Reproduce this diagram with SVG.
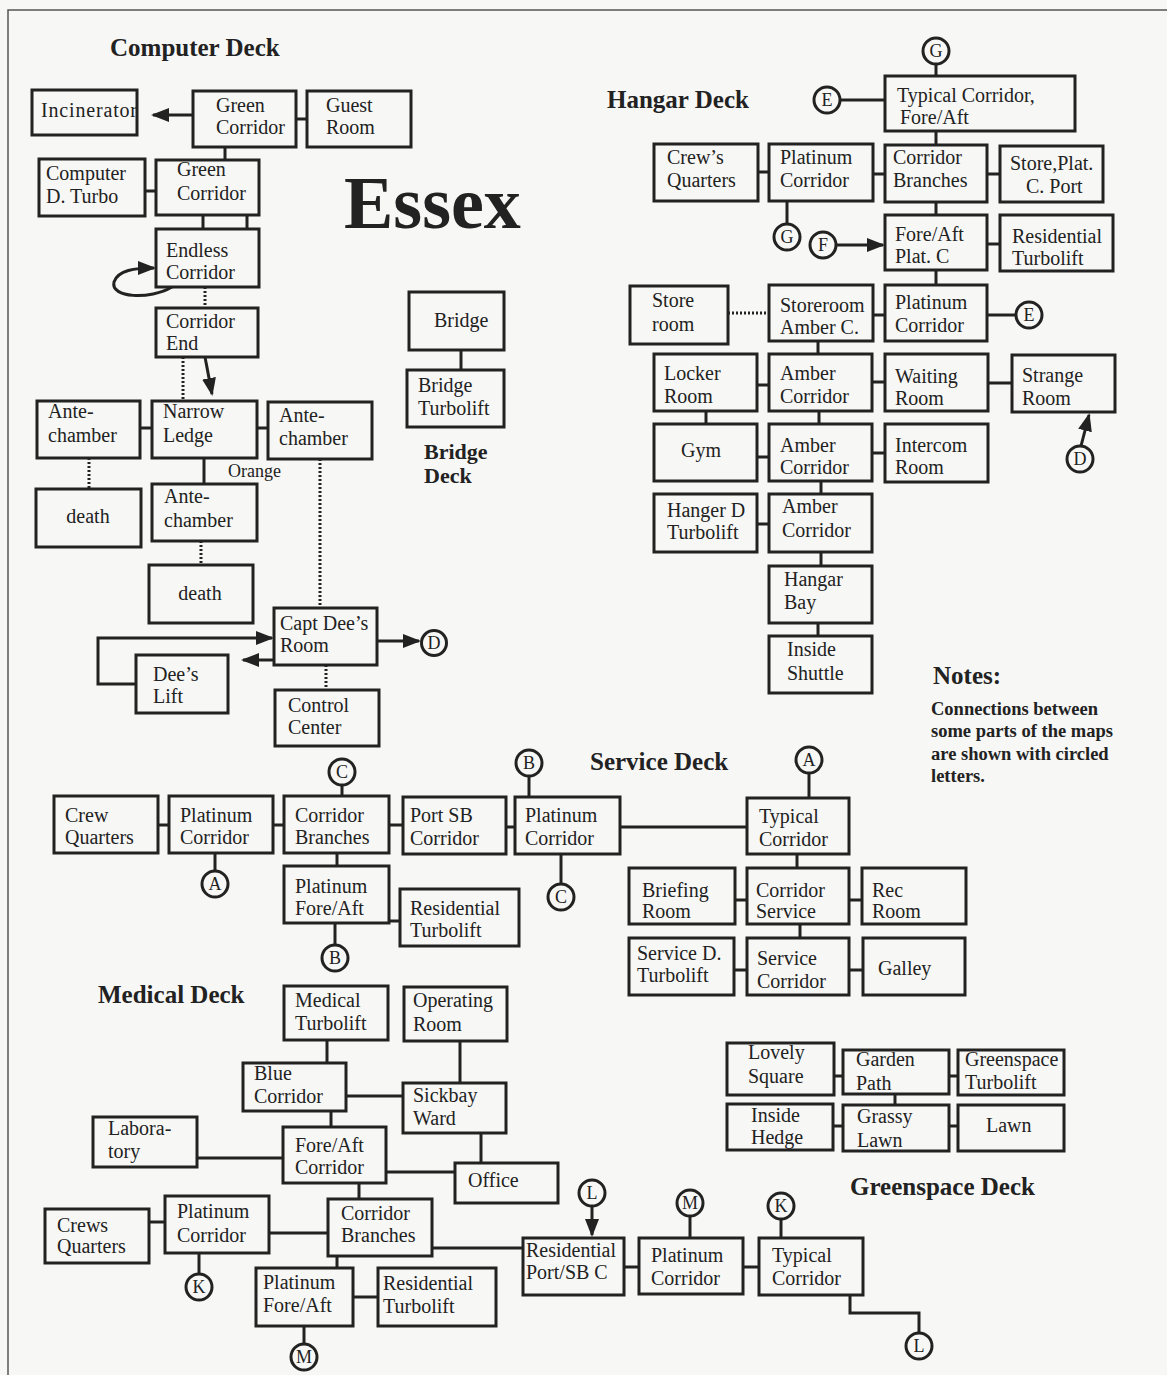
<svg xmlns="http://www.w3.org/2000/svg" width="1167" height="1375" viewBox="0 0 1167 1375">
<style>
.bg{fill:#f7f7f5}
.frame{stroke:#555;stroke-width:1.5;fill:none}
.box{fill:none;stroke:#222;stroke-width:3}
text{font-family:"Liberation Serif","Times New Roman",serif;fill:#222}
.t{font-size:20px}
.h{font-size:25px;font-weight:bold}
.h2{font-size:22px;font-weight:bold}
.title{font-size:74px;font-weight:bold}
.note{font-size:18.5px;font-weight:bold}
.ln{stroke:#222;stroke-width:3;fill:none}
.dot{stroke:#222;stroke-width:3;stroke-dasharray:2 2;fill:none}
.arr{marker-end:url(#ah)}
.circ{fill:none;stroke:#222;stroke-width:3}
.cl{font-size:18px;text-anchor:middle}
</style>
<defs>
<marker id="ah" viewBox="0 0 18 14" refX="16" refY="7" markerWidth="18" markerHeight="14" markerUnits="userSpaceOnUse" orient="auto">
<path d="M0,0 L18,7 L0,14 z" fill="#222"/>
</marker>
</defs>
<rect class="bg" x="0" y="0" width="1167" height="1375"/>
<path class="frame" d="M8 1375 V10 H1167"/>

<!-- Titles -->
<g id="titles">
<text class="title" x="344" y="228">Essex</text>
<text class="h" x="110" y="56">Computer Deck</text>
<text class="h" x="607" y="108">Hangar Deck</text>
<text class="h2" x="424" y="459">Bridge</text>
<text class="h2" x="424" y="483">Deck</text>
<text class="h" x="590" y="770">Service Deck</text>
<text class="h" x="98" y="1003">Medical Deck</text>
<text class="h" x="850" y="1195">Greenspace Deck</text>
<text class="h" x="933" y="684">Notes:</text>
<text class="note" x="931" y="715">Connections between</text>
<text class="note" x="931" y="737">some parts of the maps</text>
<text class="note" x="931" y="760">are shown with circled</text>
<text class="note" x="931" y="782">letters.</text>
<text class="t" x="228" y="477" style="font-size:18px">Orange</text>
</g>

<!-- Connectors -->
<g id="connectors">
<!-- Computer deck -->
<path class="ln arr" d="M193 115 H153"/>
<path class="ln" d="M296 119 H307"/>
<path class="ln" d="M225 147 V160"/>
<path class="ln" d="M145 191 H156"/>
<path class="ln" d="M203 215 V229 M247 215 V229"/>
<path class="ln arr" d="M172 287 C150 300 110 298 114 282 C118 270 135 268 154 268"/>
<path class="dot" d="M205 287 V308"/>
<path class="dot" d="M183 357 V401"/>
<path class="ln arr" d="M205 357 L212 394"/>
<path class="ln" d="M140 428 H152 M257 428 H268"/>
<path class="ln" d="M204 458 V484"/>
<path class="dot" d="M89 458 V489"/>
<path class="dot" d="M201 541 V565"/>
<path class="dot" d="M320 459 V608"/>
<path class="ln arr" d="M377 641 H419"/>
<path class="ln arr" d="M137 684 H98 V638 H272"/>
<path class="ln arr" d="M274 660 H243"/>
<path class="dot" d="M326 665 V690"/>
<!-- Bridge -->
<path class="ln" d="M461 350 V370"/>
<!-- Hangar deck -->
<path class="ln" d="M936 64 V76"/>
<path class="ln" d="M840 100 H885"/>
<path class="ln" d="M936 131 V145"/>
<path class="ln" d="M758 172 H769 M873 174 H885 M987 174 H1000"/>
<path class="ln" d="M787 201 V224"/>
<path class="ln arr" d="M836 245 H883"/>
<path class="ln" d="M936 202 V215"/>
<path class="ln" d="M987 244 H1000"/>
<path class="ln" d="M936 270 V285"/>
<path class="dot" d="M728 313 H769"/>
<path class="ln" d="M873 315 H885"/>
<path class="ln" d="M987 315 H1016"/>
<path class="ln" d="M818 341 V354"/>
<path class="ln" d="M757 385 H769 M872 382 H885 M988 383 H1012"/>
<path class="ln arr" d="M1081 446 L1089 415"/>
<path class="ln" d="M706 411 V424 M819 411 V424"/>
<path class="ln" d="M757 457 H769 M872 453 H885"/>
<path class="ln" d="M821 481 V494"/>
<path class="ln" d="M757 524 H769"/>
<path class="ln" d="M821 552 V566"/>
<path class="ln" d="M818 623 V636"/>
<!-- Service deck -->
<path class="ln" d="M342 785 V797"/>
<path class="ln" d="M529 776 V797"/>
<path class="ln" d="M158 825 H169 M273 825 H284 M389 825 H403 M506 827 H515"/>
<path class="ln" d="M215 853 V871"/>
<path class="ln" d="M337 853 V866"/>
<path class="ln" d="M389 921 H400"/>
<path class="ln" d="M335 923 V945"/>
<path class="ln" d="M561 854 V884"/>
<path class="ln" d="M809 773 V798"/>
<path class="ln" d="M620 827 H747"/>
<path class="ln" d="M797 854 V868"/>
<path class="ln" d="M735 900 H747 M849 900 H862"/>
<path class="ln" d="M800 924 V938"/>
<path class="ln" d="M734 970 H747 M849 970 H863"/>
<!-- Medical deck -->
<path class="ln" d="M327 1040 V1063"/>
<path class="ln" d="M460 1041 V1083"/>
<path class="ln" d="M346 1096 H403"/>
<path class="ln" d="M331 1111 V1127"/>
<path class="ln" d="M197 1158 H283"/>
<path class="ln" d="M481 1133 V1163"/>
<path class="ln" d="M386 1172 H455"/>
<path class="ln" d="M359 1183 V1199"/>
<path class="ln" d="M149 1222 H165"/>
<path class="ln" d="M269 1233 H328"/>
<path class="ln" d="M199 1253 V1274"/>
<path class="ln" d="M432 1248 H523"/>
<path class="ln" d="M337 1256 V1268"/>
<path class="ln" d="M353 1297 H378"/>
<path class="ln" d="M304 1326 V1344"/>
<!-- Greenspace & residential -->
<path class="ln" d="M834 1076 H843 M949 1076 H958"/>
<path class="ln" d="M895 1094 V1105"/>
<path class="ln" d="M833 1126 H843 M949 1126 H958"/>
<path class="ln arr" d="M592 1206 V1235"/>
<path class="ln" d="M690 1216 V1238"/>
<path class="ln" d="M624 1267 H639 M743 1267 H759"/>
<path class="ln" d="M781 1219 V1238"/>
<path class="ln" d="M850 1295 V1313 H919 V1333"/>
</g>

<!-- Circled letters -->
<g id="circle-D1"><circle class="circ" cx="434" cy="643" r="12.5"/><text class="cl" x="434" y="649">D</text></g>
<g id="circle-G1"><circle class="circ" cx="936" cy="51" r="13"/><text class="cl" x="936" y="57">G</text></g>
<g id="circle-E1"><circle class="circ" cx="827" cy="100" r="13"/><text class="cl" x="827" y="106">E</text></g>
<g id="circle-G2"><circle class="circ" cx="787" cy="237" r="13"/><text class="cl" x="787" y="243">G</text></g>
<g id="circle-F"><circle class="circ" cx="823" cy="245" r="13"/><text class="cl" x="823" y="251">F</text></g>
<g id="circle-E2"><circle class="circ" cx="1029" cy="315" r="13"/><text class="cl" x="1029" y="321">E</text></g>
<g id="circle-D2"><circle class="circ" cx="1080" cy="459" r="13"/><text class="cl" x="1080" y="465">D</text></g>
<g id="circle-C1"><circle class="circ" cx="342" cy="772" r="13"/><text class="cl" x="342" y="778">C</text></g>
<g id="circle-B1"><circle class="circ" cx="529" cy="763" r="13"/><text class="cl" x="529" y="769">B</text></g>
<g id="circle-A1"><circle class="circ" cx="215" cy="884" r="13"/><text class="cl" x="215" y="890">A</text></g>
<g id="circle-B2"><circle class="circ" cx="335" cy="958" r="13"/><text class="cl" x="335" y="964">B</text></g>
<g id="circle-C2"><circle class="circ" cx="561" cy="897" r="13"/><text class="cl" x="561" y="903">C</text></g>
<g id="circle-A2"><circle class="circ" cx="809" cy="760" r="13"/><text class="cl" x="809" y="766">A</text></g>
<g id="circle-K1"><circle class="circ" cx="199" cy="1287" r="13"/><text class="cl" x="199" y="1293">K</text></g>
<g id="circle-M1"><circle class="circ" cx="304" cy="1357" r="13"/><text class="cl" x="304" y="1363">M</text></g>
<g id="circle-L1"><circle class="circ" cx="592" cy="1193" r="13"/><text class="cl" x="592" y="1199">L</text></g>
<g id="circle-M2"><circle class="circ" cx="690" cy="1203" r="13"/><text class="cl" x="690" y="1209">M</text></g>
<g id="circle-K2"><circle class="circ" cx="781" cy="1206" r="13"/><text class="cl" x="781" y="1212">K</text></g>
<g id="circle-L2"><circle class="circ" cx="919" cy="1346" r="13"/><text class="cl" x="919" y="1352">L</text></g>

<!-- Computer Deck nodes -->
<g id="incinerator"><rect class="box" x="32" y="90" width="105" height="45"/><text class="t" x="41" y="117" textLength="96">Incinerator</text></g>
<g id="green-corridor-1"><rect class="box" x="193" y="91" width="103" height="56"/><text class="t" x="216" y="112">Green</text><text class="t" x="216" y="134">Corridor</text></g>
<g id="guest-room"><rect class="box" x="307" y="91" width="104" height="56"/><text class="t" x="326" y="112">Guest</text><text class="t" x="326" y="134">Room</text></g>
<g id="computer-turbo"><rect class="box" x="39" y="159" width="106" height="57"/><text class="t" x="46" y="180">Computer</text><text class="t" x="46" y="203">D. Turbo</text></g>
<g id="green-corridor-2"><rect class="box" x="156" y="160" width="103" height="55"/><text class="t" x="177" y="176">Green</text><text class="t" x="177" y="200">Corridor</text></g>
<g id="endless-corridor"><rect class="box" x="156" y="229" width="103" height="58"/><text class="t" x="166" y="257">Endless</text><text class="t" x="166" y="279">Corridor</text></g>
<g id="corridor-end"><rect class="box" x="156" y="308" width="102" height="49"/><text class="t" x="166" y="328">Corridor</text><text class="t" x="166" y="350">End</text></g>
<g id="antechamber-l"><rect class="box" x="37" y="401" width="103" height="57"/><text class="t" x="48" y="418">Ante-</text><text class="t" x="48" y="442">chamber</text></g>
<g id="narrow-ledge"><rect class="box" x="152" y="401" width="105" height="57"/><text class="t" x="163" y="418">Narrow</text><text class="t" x="163" y="442">Ledge</text></g>
<g id="antechamber-r"><rect class="box" x="268" y="402" width="104" height="57"/><text class="t" x="279" y="422">Ante-</text><text class="t" x="279" y="445">chamber</text></g>
<g id="antechamber-m"><rect class="box" x="152" y="484" width="105" height="57"/><text class="t" x="164" y="503">Ante-</text><text class="t" x="164" y="527">chamber</text></g>
<g id="death-1"><rect class="box" x="36" y="489" width="105" height="58"/><text class="t" x="88" y="523" text-anchor="middle">death</text></g>
<g id="death-2"><rect class="box" x="149" y="565" width="104" height="58"/><text class="t" x="200" y="600" text-anchor="middle">death</text></g>
<g id="capt-dees-room"><rect class="box" x="274" y="608" width="103" height="57"/><text class="t" x="280" y="630">Capt Dee’s</text><text class="t" x="280" y="652">Room</text></g>
<g id="dees-lift"><rect class="box" x="136" y="655" width="92" height="58"/><text class="t" x="153" y="681">Dee’s</text><text class="t" x="153" y="703">Lift</text></g>
<g id="control-center"><rect class="box" x="275" y="690" width="104" height="56"/><text class="t" x="288" y="712">Control</text><text class="t" x="288" y="734">Center</text></g>

<!-- Bridge Deck -->
<g id="bridge"><rect class="box" x="409" y="292" width="95" height="58"/><text class="t" x="434" y="327">Bridge</text></g>
<g id="bridge-turbolift"><rect class="box" x="407" y="370" width="97" height="57"/><text class="t" x="418" y="392">Bridge</text><text class="t" x="418" y="415">Turbolift</text></g>

<!-- Hangar Deck -->
<g id="typical-corridor-h"><rect class="box" x="885" y="76" width="190" height="55"/><text class="t" x="897" y="102">Typical Corridor,</text><text class="t" x="900" y="124">Fore/Aft</text></g>
<g id="crews-quarters-h"><rect class="box" x="654" y="144" width="104" height="57"/><text class="t" x="667" y="164">Crew’s</text><text class="t" x="667" y="187">Quarters</text></g>
<g id="platinum-corridor-h1"><rect class="box" x="769" y="144" width="104" height="57"/><text class="t" x="780" y="164">Platinum</text><text class="t" x="780" y="187">Corridor</text></g>
<g id="corridor-branches-h"><rect class="box" x="885" y="145" width="102" height="57"/><text class="t" x="893" y="164">Corridor</text><text class="t" x="893" y="187">Branches</text></g>
<g id="store-plat-c-port"><rect class="box" x="1000" y="146" width="103" height="56"/><text class="t" x="1010" y="170">Store,Plat.</text><text class="t" x="1026" y="193">C. Port</text></g>
<g id="fore-aft-plat-c"><rect class="box" x="885" y="215" width="102" height="55"/><text class="t" x="895" y="241">Fore/Aft</text><text class="t" x="895" y="263">Plat. C</text></g>
<g id="residential-turbolift-h"><rect class="box" x="1000" y="215" width="113" height="56"/><text class="t" x="1012" y="243">Residential</text><text class="t" x="1012" y="265">Turbolift</text></g>
<g id="store-room"><rect class="box" x="630" y="286" width="98" height="58"/><text class="t" x="652" y="307">Store</text><text class="t" x="652" y="331">room</text></g>
<g id="storeroom-amber"><rect class="box" x="769" y="285" width="104" height="56"/><text class="t" x="780" y="312">Storeroom</text><text class="t" x="780" y="334">Amber C.</text></g>
<g id="platinum-corridor-h2"><rect class="box" x="885" y="285" width="102" height="56"/><text class="t" x="895" y="309">Platinum</text><text class="t" x="895" y="332">Corridor</text></g>
<g id="locker-room"><rect class="box" x="654" y="354" width="103" height="57"/><text class="t" x="664" y="380">Locker</text><text class="t" x="664" y="403">Room</text></g>
<g id="amber-corridor-1"><rect class="box" x="769" y="354" width="103" height="57"/><text class="t" x="780" y="380">Amber</text><text class="t" x="780" y="403">Corridor</text></g>
<g id="waiting-room"><rect class="box" x="885" y="354" width="103" height="57"/><text class="t" x="895" y="383">Waiting</text><text class="t" x="895" y="405">Room</text></g>
<g id="strange-room"><rect class="box" x="1012" y="355" width="103" height="57"/><text class="t" x="1022" y="382">Strange</text><text class="t" x="1022" y="405">Room</text></g>
<g id="gym"><rect class="box" x="654" y="424" width="103" height="57"/><text class="t" x="681" y="457">Gym</text></g>
<g id="amber-corridor-2"><rect class="box" x="769" y="424" width="103" height="57"/><text class="t" x="780" y="452">Amber</text><text class="t" x="780" y="474">Corridor</text></g>
<g id="intercom-room"><rect class="box" x="885" y="424" width="103" height="58"/><text class="t" x="895" y="452">Intercom</text><text class="t" x="895" y="474">Room</text></g>
<g id="hanger-d-turbolift"><rect class="box" x="654" y="494" width="103" height="58"/><text class="t" x="667" y="517">Hanger D</text><text class="t" x="667" y="539">Turbolift</text></g>
<g id="amber-corridor-3"><rect class="box" x="769" y="494" width="103" height="58"/><text class="t" x="782" y="513">Amber</text><text class="t" x="782" y="537">Corridor</text></g>
<g id="hangar-bay"><rect class="box" x="769" y="566" width="103" height="57"/><text class="t" x="784" y="586">Hangar</text><text class="t" x="784" y="609">Bay</text></g>
<g id="inside-shuttle"><rect class="box" x="769" y="636" width="103" height="57"/><text class="t" x="787" y="656">Inside</text><text class="t" x="787" y="680">Shuttle</text></g>

<!-- Service Deck -->
<g id="crew-quarters-s"><rect class="box" x="54" y="796" width="104" height="57"/><text class="t" x="65" y="822">Crew</text><text class="t" x="65" y="844">Quarters</text></g>
<g id="platinum-corridor-s1"><rect class="box" x="169" y="796" width="104" height="57"/><text class="t" x="180" y="822">Platinum</text><text class="t" x="180" y="844">Corridor</text></g>
<g id="corridor-branches-s"><rect class="box" x="284" y="796" width="105" height="57"/><text class="t" x="295" y="822">Corridor</text><text class="t" x="295" y="844">Branches</text></g>
<g id="port-sb-corridor"><rect class="box" x="403" y="797" width="103" height="57"/><text class="t" x="410" y="822">Port SB</text><text class="t" x="410" y="845">Corridor</text></g>
<g id="platinum-corridor-s2"><rect class="box" x="515" y="797" width="105" height="57"/><text class="t" x="525" y="822">Platinum</text><text class="t" x="525" y="845">Corridor</text></g>
<g id="platinum-fore-aft-s"><rect class="box" x="284" y="866" width="105" height="57"/><text class="t" x="295" y="893">Platinum</text><text class="t" x="295" y="915">Fore/Aft</text></g>
<g id="residential-turbolift-s"><rect class="box" x="400" y="889" width="119" height="57"/><text class="t" x="410" y="915">Residential</text><text class="t" x="410" y="937">Turbolift</text></g>
<g id="typical-corridor-s"><rect class="box" x="747" y="798" width="102" height="56"/><text class="t" x="759" y="823">Typical</text><text class="t" x="759" y="846">Corridor</text></g>
<g id="briefing-room"><rect class="box" x="629" y="868" width="106" height="56"/><text class="t" x="642" y="897">Briefing</text><text class="t" x="642" y="918">Room</text></g>
<g id="corridor-service"><rect class="box" x="747" y="868" width="102" height="56"/><text class="t" x="756" y="897">Corridor</text><text class="t" x="756" y="918">Service</text></g>
<g id="rec-room"><rect class="box" x="862" y="868" width="104" height="56"/><text class="t" x="872" y="897">Rec</text><text class="t" x="872" y="918">Room</text></g>
<g id="service-d-turbolift"><rect class="box" x="629" y="938" width="105" height="57"/><text class="t" x="637" y="960">Service D.</text><text class="t" x="637" y="982">Turbolift</text></g>
<g id="service-corridor"><rect class="box" x="747" y="938" width="102" height="57"/><text class="t" x="757" y="965">Service</text><text class="t" x="757" y="988">Corridor</text></g>
<g id="galley"><rect class="box" x="863" y="938" width="102" height="57"/><text class="t" x="878" y="975">Galley</text></g>

<!-- Medical Deck -->
<g id="medical-turbolift"><rect class="box" x="284" y="986" width="104" height="54"/><text class="t" x="295" y="1007">Medical</text><text class="t" x="295" y="1030">Turbolift</text></g>
<g id="operating-room"><rect class="box" x="404" y="987" width="103" height="54"/><text class="t" x="413" y="1007">Operating</text><text class="t" x="413" y="1031">Room</text></g>
<g id="blue-corridor"><rect class="box" x="243" y="1063" width="103" height="48"/><text class="t" x="254" y="1080">Blue</text><text class="t" x="254" y="1103">Corridor</text></g>
<g id="sickbay-ward"><rect class="box" x="403" y="1083" width="103" height="50"/><text class="t" x="413" y="1102">Sickbay</text><text class="t" x="413" y="1125">Ward</text></g>
<g id="laboratory"><rect class="box" x="93" y="1117" width="104" height="50"/><text class="t" x="108" y="1135">Labora-</text><text class="t" x="108" y="1158">tory</text></g>
<g id="fore-aft-corridor-m"><rect class="box" x="283" y="1127" width="103" height="56"/><text class="t" x="295" y="1152">Fore/Aft</text><text class="t" x="295" y="1174">Corridor</text></g>
<g id="office"><rect class="box" x="455" y="1163" width="103" height="40"/><text class="t" x="468" y="1187">Office</text></g>
<g id="crews-quarters-m"><rect class="box" x="45" y="1209" width="104" height="54"/><text class="t" x="57" y="1232">Crews</text><text class="t" x="57" y="1253">Quarters</text></g>
<g id="platinum-corridor-m"><rect class="box" x="165" y="1196" width="104" height="57"/><text class="t" x="177" y="1218">Platinum</text><text class="t" x="177" y="1242">Corridor</text></g>
<g id="corridor-branches-m"><rect class="box" x="328" y="1199" width="104" height="57"/><text class="t" x="341" y="1220">Corridor</text><text class="t" x="341" y="1242">Branches</text></g>
<g id="platinum-fore-aft-m"><rect class="box" x="256" y="1268" width="97" height="58"/><text class="t" x="263" y="1289">Platinum</text><text class="t" x="263" y="1312">Fore/Aft</text></g>
<g id="residential-turbolift-m"><rect class="box" x="378" y="1268" width="118" height="58"/><text class="t" x="383" y="1290">Residential</text><text class="t" x="383" y="1313">Turbolift</text></g>

<!-- Residential / Greenspace -->
<g id="residential-port-sb"><rect class="box" x="523" y="1238" width="101" height="57"/><text class="t" x="526" y="1257">Residential</text><text class="t" x="526" y="1279">Port/SB C</text></g>
<g id="platinum-corridor-g"><rect class="box" x="639" y="1238" width="104" height="56"/><text class="t" x="651" y="1262">Platinum</text><text class="t" x="651" y="1285">Corridor</text></g>
<g id="typical-corridor-g"><rect class="box" x="759" y="1238" width="104" height="57"/><text class="t" x="772" y="1262">Typical</text><text class="t" x="772" y="1285">Corridor</text></g>
<g id="lovely-square"><rect class="box" x="727" y="1043" width="107" height="52"/><text class="t" x="748" y="1059">Lovely</text><text class="t" x="748" y="1083">Square</text></g>
<g id="garden-path"><rect class="box" x="843" y="1050" width="106" height="44"/><text class="t" x="856" y="1066">Garden</text><text class="t" x="856" y="1090">Path</text></g>
<g id="greenspace-turbolift"><rect class="box" x="958" y="1050" width="106" height="45"/><text class="t" x="965" y="1066">Greenspace</text><text class="t" x="965" y="1089">Turbolift</text></g>
<g id="inside-hedge"><rect class="box" x="727" y="1104" width="106" height="46"/><text class="t" x="751" y="1122">Inside</text><text class="t" x="751" y="1144">Hedge</text></g>
<g id="grassy-lawn"><rect class="box" x="843" y="1105" width="106" height="46"/><text class="t" x="857" y="1123">Grassy</text><text class="t" x="857" y="1147">Lawn</text></g>
<g id="lawn"><rect class="box" x="958" y="1105" width="106" height="46"/><text class="t" x="986" y="1132">Lawn</text></g>
</svg>
